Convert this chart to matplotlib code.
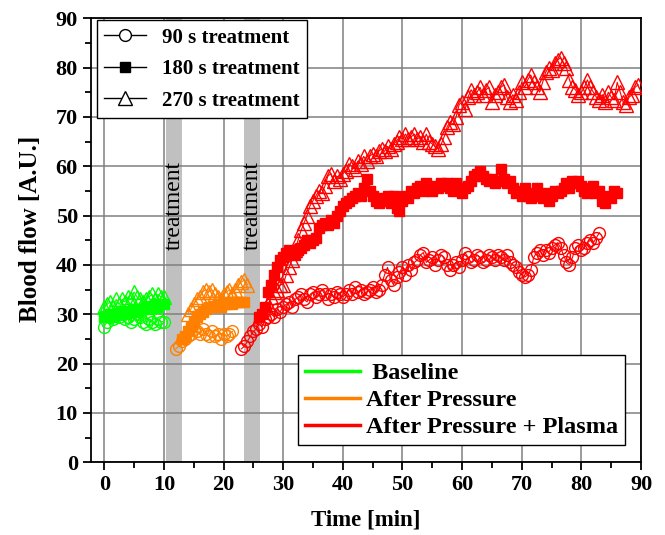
import numpy as np
import matplotlib
matplotlib.use("Agg")
import matplotlib.pyplot as plt
from matplotlib.lines import Line2D

plt.rcParams['font.family'] = ['Liberation Serif', 'DejaVu Serif']
plt.rcParams['font.weight'] = 'bold'

green = '#00ff00'
orange = '#ff8000'
red = '#ff0000'

# baseline phase (0-10 min)
base_t = [0.0, 0.5, 1.0, 1.5, 2.0, 2.5, 3.0, 3.5, 4.0, 4.5, 5.0, 5.5, 6.0, 6.5, 7.0,
          7.5, 8.0, 8.5, 9.0, 9.5, 10.0]
base_90 = [27.5, 28.5, 29.5, 29, 30, 29.5, 30, 29, 29.5, 28.5, 29, 30, 29.5, 28.5, 28,
           29, 28.5, 28, 29, 28.5, 28.5]
base_180 = [29.5, 29.5, 30, 29.5, 30, 30, 30.5, 30, 30.5, 30.5, 31, 30.5, 31, 31, 31.5,
            31, 31.5, 32, 31.5, 32, 32]
base_270 = [31.5, 32, 32.5, 31.5, 33, 32, 33, 32.5, 33.5, 33, 34.5, 33.5, 33, 32.5, 33,
            33.5, 34, 33, 34, 33.5, 33.5]

# after pressure
pres_t_90 = [12.0, 12.5, 13.0, 13.5, 14.0, 14.5, 15.0, 15.5, 16.0, 16.5, 17.0, 17.5,
             18.0, 18.5, 19.0, 19.5, 20.0, 20.5, 21.0, 21.5]
pres_90 = [23, 23.5, 24.5, 25, 25.5, 26, 27, 26.5, 26, 27, 26, 25.5, 26.5, 25.5, 26, 25,
           26, 25.5, 26, 26.5]
pres_t_180 = [13.0, 13.5, 14.0, 14.5, 15.0, 15.5, 16.0, 16.5, 17.0, 17.5, 18.0, 18.5,
              19.0, 19.5, 20.0, 20.5, 21.0, 21.5, 22.0, 22.5, 23.0, 23.5]
pres_180 = [25, 25.5, 26.5, 27.5, 28.5, 29.5, 30, 30.5, 31, 31.5, 31.5, 31.5, 32, 31.5,
            32, 32, 32.5, 32, 32.5, 32.5, 32.5, 32.5]
pres_t_270 = [14.0, 14.5, 15.0, 15.5, 16.0, 16.5, 17.0, 17.5, 18.0, 18.5, 19.0, 19.5,
              20.0, 20.5, 21.0, 21.5, 22.0, 22.5, 23.0, 23.5, 24.0]
pres_270 = [30, 31, 32, 33, 33.5, 34.5, 35, 34.5, 35, 34, 33.5, 33, 34, 34.5, 35, 34, 35,
            36, 36.5, 37, 36]

# after pressure + plasma
plas_90 = [23, 23.5, 24.5, 25.5, 26.5, 27, 28, 27.5, 29, 29.5, 30, 29.5, 31, 30.5, 31.5,
           32, 32.5, 31.5, 33, 33.5, 34, 33, 32.5, 34, 34.5, 33.5, 34, 35, 34, 33, 34,
           33.5, 34.5, 34, 33.5, 34, 35, 34, 35.5, 34.5, 35, 34, 34.5, 35, 35.5, 34.5, 35,
           36, 38, 39.5, 37, 36, 37.5, 38.5, 39.5, 38, 40, 39, 40.5, 41, 42, 42.5, 40.5,
           41, 41.5, 40, 41, 42, 41.5, 40, 39, 40, 40.5, 39.5, 41, 42.5, 41.5, 40.5, 41,
           42, 41.5, 40.5, 41, 42, 41.5, 41, 42, 41.5, 41, 42, 40.5, 40, 39.5, 38.5, 38,
           37.5, 38, 39, 41.5, 42.5, 43, 42, 43, 42.5, 43.5, 44, 44.5, 43.5, 42, 40.5, 40,
           41.5, 43.5, 44, 43, 43.5, 44.5, 45, 44.5, 45.5, 46.5]
plas_t_90 = list(np.arange(23.0, 23.0 + 0.5 * len(plas_90), 0.5))

plas_180 = [29.5, 30, 31.5, 34.5, 36, 38, 39.5, 41, 41.5, 42.5, 43, 42.5, 42, 43, 43.5,
            44, 45, 44.5, 45, 45.5, 47.5, 48, 48.5, 48, 49, 48.5, 50, 51, 52, 52.5, 53,
            53.5, 54, 54.5, 54, 55.5, 57.5, 55, 54, 53, 52.5, 53.5, 53, 54, 52.5, 54, 51.5,
            51, 53, 54, 53.5, 55, 54.5, 55.5, 56, 55, 56.5, 55.5, 55, 56, 55.5, 56.5, 56,
            56.5, 55.5, 55, 56.5, 55.5, 54.5, 55.5, 56, 57, 58, 58.5, 59, 58, 57.5, 57,
            57.5, 56.5, 57, 59.5, 57.5, 56.5, 57, 55.5, 54.5, 55, 54, 55.5, 54, 53.5, 54.5,
            55.5, 54, 53.5, 54.5, 53, 54, 55, 54.5, 55, 55.5, 56.5, 55.5, 57, 56.5, 57, 56,
            55, 54.5, 55.5, 56, 54.5, 55, 53, 52.5, 54, 53.5, 55, 54.5]
plas_t_180 = list(np.arange(26.0, 26.0 + 0.5 * len(plas_180), 0.5))

plas_270 = [32, 33.5, 34.5, 35, 36, 36, 38, 39.5, 41, 43, 45, 47, 48.5, 50, 52, 53, 54,
            55, 54.5, 56, 58, 58.5, 57, 58, 57.5, 58.5, 59, 60.5, 60, 59.5, 61, 60.5, 62,
            61, 62, 62.5, 62, 63, 63.5, 63, 64, 63.5, 64.5, 65, 66, 65.5, 66.5, 65.5, 66,
            66.5, 65.5, 66, 65, 66.5, 65, 64.5, 64, 63.5, 64.5, 66, 68, 69, 68.5, 70, 72.5,
            73, 71.5, 74, 75.5, 74.5, 75, 76, 74.5, 75.5, 76, 73, 74.5, 75, 76, 76.5, 74,
            73, 74.5, 73.5, 75, 77, 76, 77.5, 78.5, 77, 76, 75, 77, 79, 80, 79.5, 81, 81.5,
            82, 81, 80, 77.5, 76, 75.5, 74.5, 75, 76, 77.5, 76, 75, 74, 73.5, 74.5, 73, 75,
            74, 73.5, 77, 75, 73, 72.5, 74, 74.5, 76, 76.5]
plas_t_270 = list(np.arange(27.5, 27.5 + 0.5 * len(plas_270), 0.5))

bands = [(10.4, 13.0), (23.4, 26.1)]

fig = plt.figure(figsize=(6.65, 5.35), dpi=100)
ax = fig.add_axes([0.137, 0.136, 0.827, 0.83])

for x0, x1 in bands:
    ax.axvspan(x0, x1, color='#c0c0c0', lw=0, zorder=0)
    ax.text((x0 + x1) / 2, 43, 'treatment', rotation=90, ha='center', va='bottom',
            fontsize=17, fontweight='normal', zorder=1)

sets = [
    (base_t, base_90, base_t, base_180, base_t, base_270, green),
    (pres_t_90, pres_90, pres_t_180, pres_180, pres_t_270, pres_270, orange),
    (plas_t_90, plas_90, plas_t_180, plas_180, plas_t_270, plas_270, red),
]
for t1, y1, t2, y2, t3, y3, c in sets:
    ax.plot(t3, y3, '^', color=c, mfc='none', mec=c, ms=10, mew=1, ls='-', lw=0.8, zorder=3)
    ax.plot(t2, y2, 's', color=c, mfc=c, mec=c, ms=7.5, ls='-', lw=0.8, zorder=4)
    ax.plot(t1, y1, 'o', color=c, mfc='none', mec=c, ms=8.5, mew=1, ls='-', lw=0.8, zorder=5)

ax.set_xlim(-2.2, 90)
ax.set_ylim(0, 90)
ax.set_xticks(np.arange(0, 91, 10))
ax.set_yticks(np.arange(0, 91, 10))
ax.set_xticks(np.arange(0, 91, 5), minor=True)
ax.set_yticks(np.arange(0, 91, 5), minor=True)
ax.grid(True, which='major', color='#808080', lw=1.1)
ax.set_axisbelow(True)
ax.tick_params(which='major', direction='out', length=6, width=1.3, labelsize=16)
ax.tick_params(which='minor', direction='out', length=4, width=1.3)
for s in ax.spines.values():
    s.set_linewidth(1.3)
ax.set_xlabel('Time [min]', fontsize=16.5, fontweight='bold', labelpad=10)
ax.set_ylabel('Blood flow [A.U.]', fontsize=18, fontweight='bold')
ax.yaxis.set_label_coords(-0.09, 0.525)

h1 = [Line2D([], [], color='k', lw=1, marker='o', mfc='white', mec='k', ms=8.5),
      Line2D([], [], color='k', lw=1, marker='s', mfc='k', mec='k', ms=7.5),
      Line2D([], [], color='k', lw=1, marker='^', mfc='white', mec='k', ms=10)]
leg1 = ax.legend(h1, ['90 s treatment', '180 s treatment', '270 s treatment'],
                 loc='upper left', bbox_to_anchor=(0.011, 0.995), borderaxespad=0,
                 fancybox=False, edgecolor='k', framealpha=1,
                 handlelength=2.0, labelspacing=0.55, borderpad=0.35, handletextpad=0.75,
                 prop={'weight': 'bold', 'size': 15})
leg1.get_frame().set_linewidth(1)
ax.add_artist(leg1)

h2 = [Line2D([], [], color=green, lw=2.5),
      Line2D([], [], color=orange, lw=2.5),
      Line2D([], [], color=red, lw=2.5)]
leg2 = ax.legend(h2, [' Baseline', 'After Pressure', 'After Pressure + Plasma'],
                 loc='lower right', bbox_to_anchor=(0.971, 0.038), borderaxespad=0,
                 fancybox=False, edgecolor='k', framealpha=1,
                 handlelength=2.25, labelspacing=0.2, borderpad=0.3, handletextpad=0.25,
                 prop={'weight': 'bold', 'size': 17.5})
leg2.get_frame().set_linewidth(1)

fig.savefig('out.png', dpi=100)
